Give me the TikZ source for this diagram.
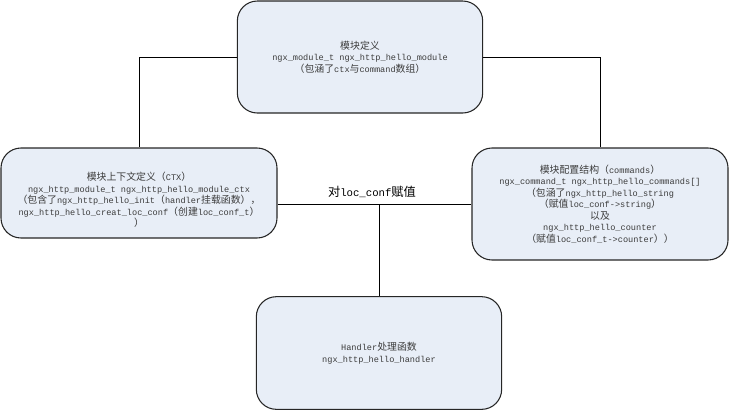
\documentclass[tikz,border=0pt]{standalone}
\usepackage{fontspec}
\setmainfont{Liberation Mono}
\newfontfamily\cjk[Scale=1.15]{Noto Sans CJK SC}
\newcommand{\zh}[1]{{\cjk #1}}
\usetikzlibrary{positioning}
\definecolor{boxfill}{RGB}{232,238,247}
\definecolor{txtgray}{RGB}{60,60,60}

\begin{document}
\begin{tikzpicture}[x=0.75pt, y=-0.75pt,
    modbox/.style={draw=black!85, line width=0.8pt, fill=boxfill, rounded corners=15pt, align=center, text=txtgray, inner sep=2pt, font=\fontsize{6.45}{8.6}\selectfont},
    link/.style={draw=black, line width=0.7pt}]
    \useasboundingbox (0,0) rectangle (730,412);

    \node[modbox, minimum width=184pt, minimum height=84pt] (module) at (360,57)
      {\zh{模块定义}\\ngx\_module\_t ngx\_http\_hello\_module\\\zh{（包涵了}ctx\zh{与}command\zh{数组）}};
    % text sits a little low in this box
    \node[modbox, minimum width=207pt, minimum height=67.5pt] (ctx) at (139,193)
      {\rule{0pt}{17pt}\zh{模块上下文定义（}CTX\zh{）}\\ngx\_http\_module\_t ngx\_http\_hello\_module\_ctx\\\zh{（包含了}ngx\_http\_hello\_init\zh{（}handler\zh{挂载函数），}\\ngx\_http\_hello\_creat\_loc\_conf\zh{（创建}loc\_conf\_t\zh{）}\\\zh{）}};
    \node[modbox, minimum width=192pt, minimum height=84pt] (cmds) at (600,204)
      {\zh{模块配置结构（}commands\zh{）}\\ngx\_command\_t ngx\_http\_hello\_commands[]\\\zh{（包涵了}ngx\_http\_hello\_string\\\zh{（赋值}loc\_conf->string\zh{）}\\\zh{以及}\\ngx\_http\_hello\_counter\\\zh{（赋值}loc\_conf\_t->counter\zh{））}};
    \node[modbox, minimum width=184pt, minimum height=84.5pt] (handler) at (379,353)
      {Handler\zh{处理函数}\\ngx\_http\_hello\_handler};

    \coordinate (split) at (handler.north |- cmds.west);
    \node[font=\fontsize{8}{10}\selectfont] (assign) at (372,192) {\zh{对}loc\_conf\zh{赋值}};

    \draw[link] (module.west) -| (ctx.north);
    \draw[link] (module.east) -| (cmds.north);
    \draw[link] (ctx.east |- cmds.west) -- (cmds.west);
    \draw[link] (split) -- (handler.north);
\end{tikzpicture}
\end{document}
